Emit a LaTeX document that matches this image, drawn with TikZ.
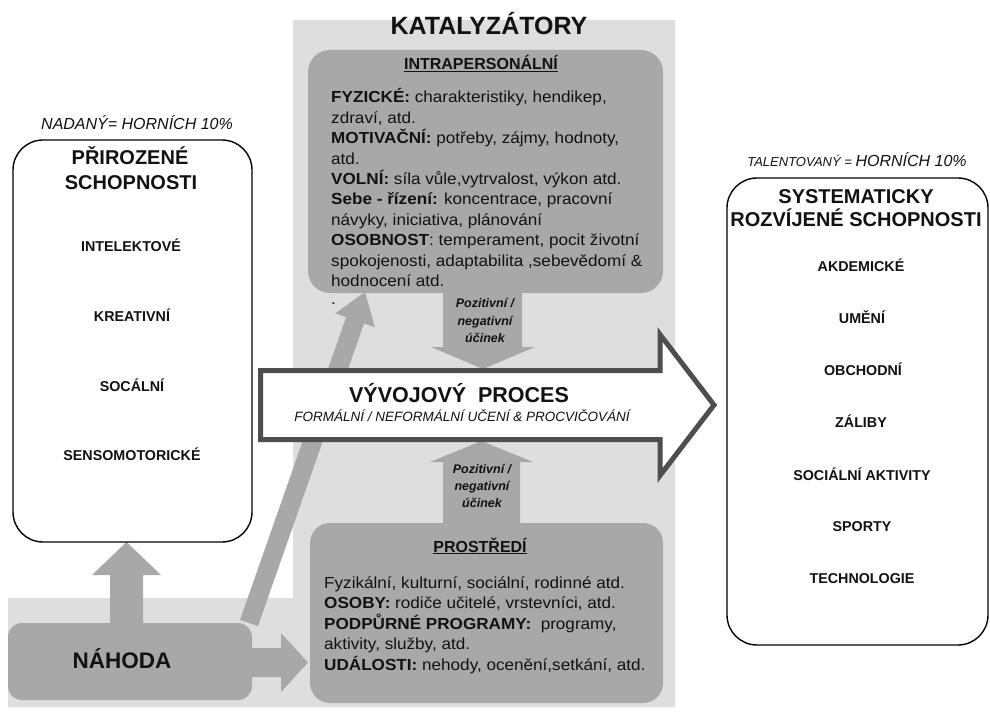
\documentclass[tikz,border=0pt]{standalone}
\usepackage{fontspec}
\setmainfont{Liberation Sans}
\newfontfamily\bodyfont{Liberation Sans}[FakeStretch=1.07]
\definecolor{panel}{RGB}{222,222,222}
\definecolor{dark}{RGB}{168,168,168}
\definecolor{edge}{RGB}{78,78,78}
\definecolor{ink}{RGB}{18,18,18}
\begin{document}
\begin{tikzpicture}[x=1pt,y=-1pt,
  txt/.style={inner sep=0pt,text=ink,anchor=base},
  bodytxt/.style={inner sep=0pt,text=ink,anchor=base west,font=\bodyfont\fontsize{16}{19}\selectfont},
  darkbox/.style={fill=dark,draw=none,rounded corners=22pt,inner sep=0pt},
  whitebox/.style={fill=white,draw=black,line width=1.4pt,rounded corners=30pt,inner sep=0pt},
  item/.style={txt,font=\bfseries\fontsize{14.3}{17}\selectfont},
  ttl/.style={txt,font=\bfseries\fontsize{20}{24}\selectfont},
  effect/.style={txt,font=\bfseries\itshape\fontsize{12.5}{15}\selectfont}]
\useasboundingbox (0,0) rectangle (990,719);
\fill[white] (0,0) rectangle (990,719);
% catalyst panel and chance band
\fill[panel] (293,20) -- (675,20) -- (675,707) -- (8,707) -- (8,598) -- (293,598) -- cycle;
% diagonal arrow from chance to intrapersonal
\fill[dark] (240.03,619.86) -- (346.11,317.17) -- (335.26,313.36) -- (365,292) -- (374.90,327.26) -- (364.05,323.45) -- (257.97,626.14) -- cycle;
% grey boxes
\node[darkbox,minimum width=355pt,minimum height=243pt] (intra) at (485.5,171.5) {};
\node[darkbox,rounded corners=20pt,minimum width=353pt,minimum height=180pt] (prost) at (486.5,613) {};
\node[darkbox,rounded corners=14pt,minimum width=244pt,minimum height=77pt] (nahoda) at (130,661.5) {};
% arrows from chance
\fill[dark] (110,630) -- (110,575) -- (92,575) -- (126.5,542) -- (161,575) -- (143,575) -- (143,630) -- cycle;
\fill[dark] (245,648) -- (281,648) -- (281,633) -- (308,662.5) -- (281,692) -- (281,677) -- (245,677) -- cycle;
% effect arrows
\fill[dark] (443,285) -- (522,285) -- (522,347) -- (535,347) -- (483,369) -- (431,347) -- (443,347) -- cycle;
\fill[dark] (443,530) -- (443,462) -- (430,462) -- (481.5,441) -- (533,462) -- (520,462) -- (520,530) -- cycle;
% development process arrow
\draw[edge,line width=5pt,fill=white,miter limit=10] (260.5,370.5) -- (660,370.5) -- (660,334.5) -- (714,405) -- (660,475.5) -- (660,439.5) -- (260.5,439.5) -- cycle;
% white boxes
\node[whitebox,minimum width=239pt,minimum height=402pt] (natural) at (132.5,341) {};
\node[whitebox,minimum width=261pt,minimum height=467pt] (developed) at (857.5,411.5) {};

% texts
\node[txt,font=\bfseries\fontsize{25}{30}\selectfont] (katal) at (489,35) {KATALYZÁTORY};
\node[txt,font=\bfseries\fontsize{16}{19}\selectfont] (intratitle) at (481,70) {\underline{INTRAPERSONÁLNÍ}};
\foreach \ln [count=\i] in {
  {\textbf{FYZICKÉ:} charakteristiky, hendikep,},
  {zdraví, atd.},
  {\textbf{MOTIVAČNÍ:} potřeby, zájmy, hodnoty,},
  {atd.},
  {\textbf{VOLNÍ:} síla vůle,vytrvalost, výkon atd.},
  {\textbf{Sebe - řízení:} koncentrace, pracovní},
  {návyky, iniciativa, plánování},
  {\textbf{OSOBNOST}: temperament, pocit životní},
  {spokojenosti, adaptabilita ,sebevědomí \&},
  {hodnocení atd.}}
  \node[bodytxt] (ip\i) at (331,{103+20.4*(\i-1)}) {\ln};
\node[bodytxt] (ipdot) at (331,304) {.};

\node[txt,font=\bfseries\fontsize{16}{19}\selectfont] (prosttitle) at (480,552) {\underline{PROSTŘEDÍ}};
\foreach \ln [count=\i] in {
  {Fyzikální, kulturní, sociální, rodinné atd.},
  {\textbf{OSOBY:} rodiče učitelé, vrstevníci, atd.},
  {\textbf{PODPŮRNÉ PROGRAMY:}\ \ programy,},
  {aktivity, služby, atd.},
  {\textbf{UDÁLOSTI:} nehody, ocenění,setkání, atd.}}
  \node[bodytxt] (pr\i) at (324,{588+20.5*(\i-1)}) {\ln};

\node[effect] (eff1a) at (485,307) {Pozitivní /};
\node[effect] (eff1b) at (485,325) {negativní};
\node[effect] (eff1c) at (485,342) {účinek};
\node[effect] (eff2a) at (482,473) {Pozitivní /};
\node[effect] (eff2b) at (482,490) {negativní};
\node[effect] (eff2c) at (482,507) {účinek};

\node[txt,font=\bfseries\fontsize{21.5}{26}\selectfont] (proc) at (459,402) {VÝVOJOVÝ\ \ PROCES};
\node[txt,font=\itshape\fontsize{13.5}{16}\selectfont] (procsub) at (462,421) {FORMÁLNÍ / NEFORMÁLNÍ UČENÍ \& PROCVIČOVÁNÍ};

\node[txt,font=\itshape\fontsize{16}{19}\selectfont] (nadany) at (137,130) {NADANÝ= HORNÍCH 10\%};
\node[ttl] (nt1) at (130,165) {PŘIROZENÉ};
\node[ttl] (nt2) at (131,190) {SCHOPNOSTI};
\node[item] (n1) at (131,252) {INTELEKTOVÉ};
\node[item] (n2) at (132,321) {KREATIVNÍ};
\node[item] (n3) at (132,391) {SOCÁLNÍ};
\node[item] (n4) at (132,460) {SENSOMOTORICKÉ};

\node[txt,font=\itshape\fontsize{13}{16}\selectfont] (talent) at (857,167) {TALENTOVANÝ = {\fontsize{16}{19}\selectfont HORNÍCH 10\%}};
\node[ttl] (dt1) at (856,204) {SYSTEMATICKY};
\node[ttl] (dt2) at (856,227) {ROZVÍJENÉ SCHOPNOSTI};
\node[item] (d1) at (861,272) {AKDEMICKÉ};
\node[item] (d2) at (862,323) {UMĚNÍ};
\node[item] (d3) at (863,375) {OBCHODNÍ};
\node[item] (d4) at (861,427) {ZÁLIBY};
\node[item] (d5) at (862,480) {SOCIÁLNÍ AKTIVITY};
\node[item] (d6) at (862,531) {SPORTY};
\node[item] (d7) at (862,583) {TECHNOLOGIE};

\node[txt,font=\bfseries\fontsize{22.5}{27}\selectfont] (nahodatxt) at (122,668) {NÁHODA};
\end{tikzpicture}
\end{document}
